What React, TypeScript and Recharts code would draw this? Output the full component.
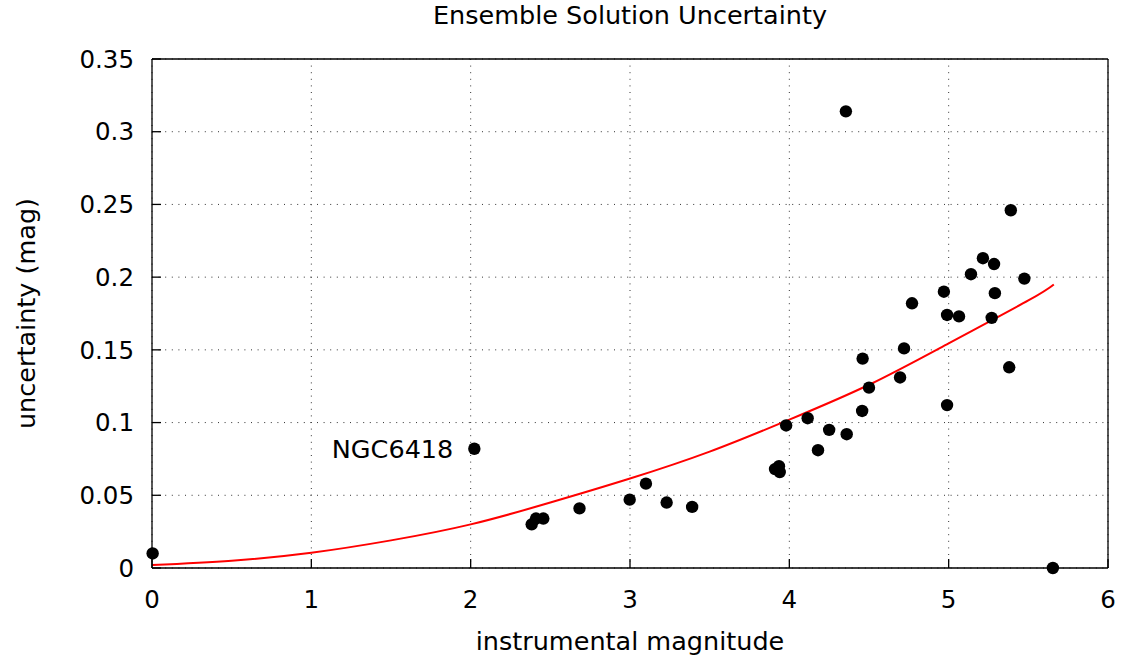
import {
  ComposedChart,
  Scatter,
  Line,
  XAxis,
  YAxis,
  CartesianGrid,
  ReferenceDot,
} from 'recharts';

// measured points: instrumental magnitude vs. uncertainty (mag)
const magnitude = [
  0.004, 2.023, 2.383, 2.41, 2.456, 2.683, 2.998, 3.1, 3.23, 3.39,
  3.91, 3.935, 3.94, 3.98, 4.115, 4.18, 4.25, 4.36, 4.355, 4.457,
  4.46, 4.5, 4.695, 4.72, 4.77, 4.97, 4.99, 4.99, 5.065, 5.14,
  5.215, 5.27, 5.285, 5.29, 5.38, 5.39, 5.475, 5.654,
];
const uncertainty = [
  0.01, 0.082, 0.03, 0.034, 0.034, 0.041, 0.047, 0.058, 0.045, 0.042,
  0.068, 0.07, 0.066, 0.098, 0.103, 0.081, 0.095, 0.092, 0.314, 0.108,
  0.144, 0.124, 0.131, 0.151, 0.182, 0.19, 0.174, 0.112, 0.173, 0.202,
  0.213, 0.172, 0.209, 0.189, 0.138, 0.246, 0.199, 0,
];

// fitted curve
const fitMagnitude = [0, 0.5, 1, 1.5, 2, 2.5, 3, 3.5, 4, 4.5, 5, 5.5, 5.66];
const fitUncertainty = [
  0.002, 0.005, 0.0105, 0.019, 0.03, 0.045, 0.0615, 0.08, 0.102, 0.126, 0.1545, 0.184, 0.195,
];

const xTicks = [0, 1, 2, 3, 4, 5, 6];
const yTicks = [0, 0.05, 0.1, 0.15, 0.2, 0.25, 0.3, 0.35];

const labelName = 'NGC6418';
const labelIndex = 1;

const title = 'Ensemble Solution Uncertainty';
const xLabel = 'instrumental magnitude';
const yLabel = 'uncertainty (mag)';

const FONT = '"DejaVu Sans", sans-serif';
const FS = 25.5; // titles and labels
const TICK_FS = 24.5;

const points = magnitude.map((x, i) => ({ x, y: uncertainty[i] }));
const fit = fitMagnitude.map((x, i) => ({ x, y: fitUncertainty[i] }));

const fmt = (v: number) => String(Number(v.toFixed(2)));

const Dot = (props: any) => <circle cx={props.cx} cy={props.cy} r={6.2} fill="#000" />;

export default function App() {
  return (
    <div style={{ position: 'absolute', left: 0, top: 0, fontFamily: FONT }}>
      <ComposedChart
        width={1123}
        height={659}
        margin={{ top: 58, right: 14, left: 72, bottom: 41 }}
      >
        <CartesianGrid stroke="#333" strokeDasharray="1 5.6" />
        <XAxis
          type="number"
          dataKey="x"
          domain={[0, 6]}
          ticks={xTicks}
          height={50}
          tickSize={-9}
          tickMargin={32}
          stroke="#000"
          strokeWidth={1.3}
          tick={{ fill: '#000', fontSize: TICK_FS, fontFamily: FONT }}
          tickFormatter={fmt}
          label={{
            content: (p: any) => (
              <text
                x={p.viewBox.x + p.viewBox.width / 2}
                y={p.viewBox.y + 82}
                textAnchor="middle"
                fontSize={FS}
                fontFamily={FONT}
                fill="#000"
              >
                {xLabel}
              </text>
            ),
          }}
        />
        <XAxis
          xAxisId="top"
          orientation="top"
          type="number"
          domain={[0, 6]}
          ticks={xTicks}
          height={1}
          tickSize={-9}
          tick={false}
          stroke="#000"
          strokeWidth={1.3}
          label={{
            content: (p: any) => (
              <text
                x={p.viewBox.x + p.viewBox.width / 2}
                y={24}
                textAnchor="middle"
                fontSize={FS}
                fontFamily={FONT}
                fill="#000"
              >
                {title}
              </text>
            ),
          }}
        />
        <YAxis
          type="number"
          dataKey="y"
          domain={[0, 0.35]}
          ticks={yTicks}
          width={80}
          tickSize={-9}
          tickMargin={27}
          stroke="#000"
          strokeWidth={1.3}
          tick={{ fill: '#000', fontSize: TICK_FS, fontFamily: FONT }}
          tickFormatter={fmt}
          label={{
            content: (p: any) => {
              const cx = 35;
              const cy = p.viewBox.y + p.viewBox.height / 2;
              return (
                <text
                  x={cx}
                  y={cy}
                  transform={`rotate(-90, ${cx}, ${cy})`}
                  textAnchor="middle"
                  fontSize={FS}
                  fontFamily={FONT}
                  fill="#000"
                >
                  {yLabel}
                </text>
              );
            },
          }}
        />
        <YAxis
          yAxisId="right"
          orientation="right"
          type="number"
          domain={[0, 0.35]}
          ticks={yTicks}
          width={1}
          tickSize={-9}
          tick={false}
          stroke="#000"
          strokeWidth={1.3}
        />
        <Line
          data={fit}
          dataKey="y"
          type="natural"
          stroke="#ff0000"
          strokeWidth={2}
          dot={false}
          activeDot={false}
          isAnimationActive={false}
        />
        <Scatter
          data={points}
          dataKey="y"
          fill="#000"
          shape={Dot}
          isAnimationActive={false}
        />
        <ReferenceDot
          x={magnitude[labelIndex]}
          y={uncertainty[labelIndex]}
          r={0}
          stroke="none"
          label={{
            value: labelName,
            position: 'left',
            offset: 21,
            fontSize: FS,
            fontFamily: FONT,
            fill: '#000',
          }}
        />
      </ComposedChart>
    </div>
  );
}
